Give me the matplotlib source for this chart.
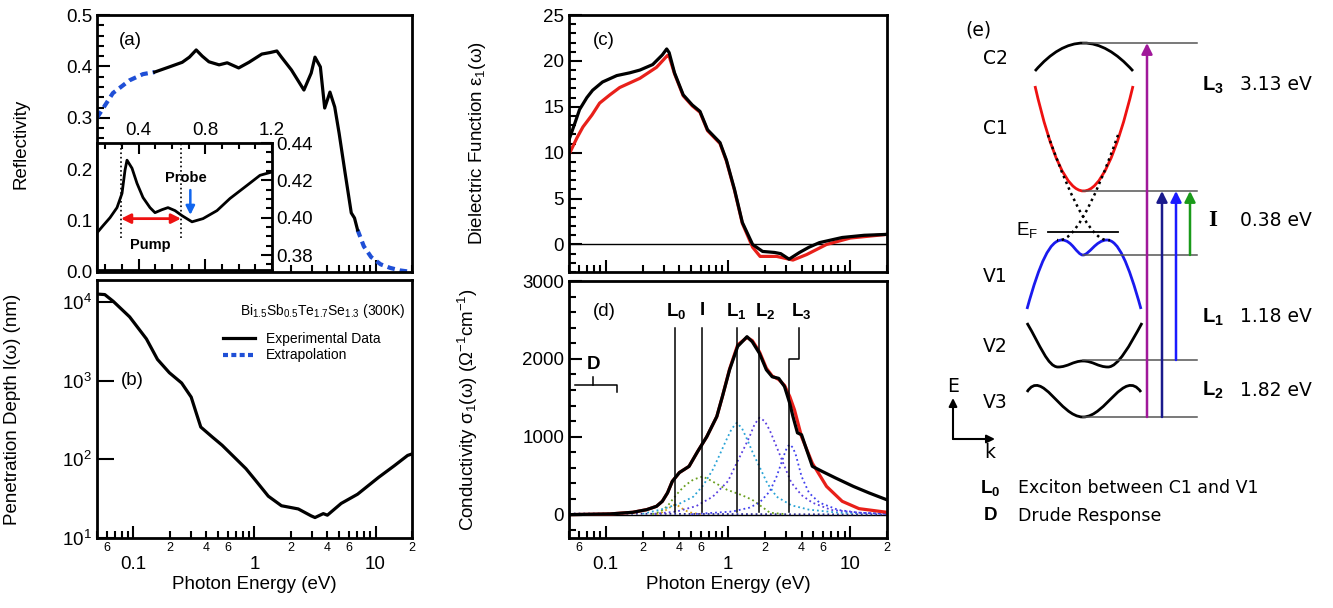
#!/usr/bin/env python3
"""Optical spectra of Bi1.5Sb0.5Te1.7Se1.3 with band-transition sketch."""

import matplotlib
matplotlib.use("Agg")
import matplotlib.pyplot as plt
from matplotlib.path import Path
from matplotlib.patches import PathPatch
from matplotlib.ticker import FixedLocator, FuncFormatter, MultipleLocator, LogFormatterMathtext, NullLocator

plt.rcParams["font.family"] = ["Liberation Sans", "DejaVu Sans"]
plt.rcParams["mathtext.fontset"] = "custom"
plt.rcParams["mathtext.rm"] = "Liberation Sans"
plt.rcParams["mathtext.it"] = "Liberation Sans:italic"
plt.rcParams["mathtext.bf"] = "Liberation Sans:bold"

# ---- (a) reflectivity ----
refl_lo_E = [0.05, 0.0676, 0.093, 0.12, 0.15]
refl_lo_R = [0.30, 0.348, 0.373, 0.385, 0.389]
refl_E = [0.15, 0.198, 0.253, 0.29, 0.33, 0.37, 0.42, 0.51, 0.595, 0.74, 0.90, 1.15, 1.35, 1.53,
          1.67, 2.02, 2.56, 2.94, 3.16, 3.5, 3.8, 4.2, 4.6, 5.0, 5.6, 6.3, 6.7, 7.1]
refl_R = [0.389, 0.399, 0.408, 0.418, 0.432, 0.42, 0.409, 0.403, 0.407, 0.397, 0.408, 0.424, 0.427, 0.43,
          0.418, 0.393, 0.354, 0.387, 0.418, 0.399, 0.319, 0.350, 0.321, 0.27, 0.193, 0.115, 0.105, 0.082]
refl_hi_E = [7.1, 8.0, 9.2, 11.0, 13.2, 16.0, 20.0]
refl_hi_R = [0.082, 0.05, 0.029, 0.015, 0.008, 0.003, 0.0]

inset_E = [0.15, 0.186, 0.228, 0.27, 0.30, 0.318, 0.33, 0.36, 0.39, 0.426, 0.468, 0.498, 0.54,
           0.576, 0.618, 0.66, 0.72, 0.786, 0.87, 0.948, 1.05, 1.128, 1.2]
inset_R = [0.3919, 0.3957, 0.400, 0.4054, 0.413, 0.4254, 0.4308, 0.4265, 0.4184, 0.4108, 0.4054,
           0.4027, 0.4043, 0.4054, 0.4038, 0.4011, 0.3978, 0.3995, 0.4038, 0.4103, 0.4173, 0.4227, 0.4245]
pump_E = [0.294, 0.654]
probe_E = 0.71

# ---- (b) penetration depth ----
depth_E = [0.05, 0.058, 0.068, 0.093, 0.128, 0.158, 0.198, 0.25, 0.30, 0.33, 0.36, 0.45, 0.54,
           0.70, 0.85, 1.02, 1.3, 1.67, 2.3, 2.94, 3.16, 3.7, 4.0, 5.2, 7.1, 10.6, 14.3, 18.4, 20.0]
depth_nm = [12600, 12400, 10200, 6460, 3390, 1860, 1260, 933, 617, 389, 257, 191, 151,
            102, 76, 54, 34, 25.7, 23.4, 19.1, 18.2, 20.4, 19.5, 27.5, 36, 59, 83, 112, 117]

# ---- (c) dielectric function ----
eps_E = [0.05, 0.0558, 0.061, 0.070, 0.078, 0.094, 0.123, 0.157, 0.19, 0.242, 0.29, 0.315, 0.33,
         0.365, 0.43, 0.51, 0.59, 0.68, 0.86, 0.97, 1.13, 1.31, 1.59, 1.92, 2.4, 2.7, 3.16, 3.85,
         4.6, 5.6, 8.6, 13.0, 20.0]
eps_exp = [11.4, 13.2, 14.7, 16.0, 16.8, 17.7, 18.4, 18.7, 19.0, 19.6, 20.65, 21.3, 20.9,
           18.7, 16.3, 15.2, 14.5, 12.5, 11.1, 9.2, 6.0, 2.4, 0.0, -0.76, -0.87, -1.0, -1.6, -0.87,
           -0.3, 0.2, 0.76, 1.0, 1.1]
eps_fit_E = [0.05, 0.058, 0.065, 0.077, 0.089, 0.108, 0.13, 0.19, 0.26, 0.32, 0.33, 0.365, 0.43,
             0.51, 0.59, 0.68, 0.86, 0.97, 1.13, 1.31, 1.59, 1.83, 2.5, 3.4, 4.4, 6.4, 10.0, 20.0]
eps_fit = [9.8, 11.6, 12.8, 14.1, 15.4, 16.3, 17.1, 18.1, 19.3, 20.6, 20.5, 18.6, 16.2,
           15.1, 14.4, 12.4, 11.0, 9.1, 5.9, 2.3, -0.3, -1.3, -1.3, -1.7, -1.1, 0.0, 0.7, 1.1]

# ---- (d) optical conductivity ----
sig_E = [0.05, 0.108, 0.166, 0.216, 0.26, 0.29, 0.32, 0.35, 0.40, 0.48, 0.565, 0.67, 0.81, 0.90,
         1.03, 1.2, 1.43, 1.58, 1.81, 2.06, 2.3, 2.6, 2.9, 3.2, 3.4, 3.7, 4.0, 4.4, 4.9, 5.9,
         7.6, 10.6, 14.3, 20.0]
sig_exp = [0, 9, 30, 64, 107, 171, 280, 427, 540, 620, 812, 1000, 1260, 1517,
           1860, 2160, 2285, 2220, 2070, 1860, 1770, 1750, 1645, 1430, 1260, 1050, 1025, 833, 620, 555,
           470, 363, 278, 190]
sig_fit_E = [0.05, 0.108, 0.166, 0.216, 0.26, 0.29, 0.32, 0.35, 0.40, 0.48, 0.565, 0.67, 0.81, 0.90,
             1.03, 1.2, 1.43, 1.58, 1.81, 2.06, 2.3, 2.6, 2.9, 3.2, 3.5, 4.0, 4.9, 6.4, 8.6, 11.8, 20.0]
sig_fit = [0, 9, 30, 64, 107, 171, 280, 427, 540, 620, 812, 1000, 1260, 1517,
           1870, 2180, 2275, 2235, 2090, 1880, 1780, 1735, 1660, 1517, 1346, 1000, 660, 363, 171, 77, 30]

osc_L0_E = [0.26, 0.29, 0.32, 0.35, 0.37, 0.39, 0.42, 0.46, 0.5, 0.6]
osc_L0 = [5, 30, 70, 115, 128, 115, 80, 45, 25, 5]
osc_I_E = [0.24, 0.28, 0.32, 0.35, 0.40, 0.45, 0.52, 0.62, 0.7, 0.8, 0.98, 1.3, 1.58, 1.9, 2.2, 3.0]
osc_I = [5, 40, 110, 190, 300, 380, 450, 490, 450, 400, 320, 250, 190, 100, 25, 5]
osc_L1_E = [0.2, 0.28, 0.4, 0.52, 0.63, 0.75, 0.85, 0.95, 1.07, 1.18, 1.3, 1.45, 1.6, 1.81, 2.1,
            2.5, 3.3, 4.6, 8.0, 20.0]
osc_L1 = [10, 64, 140, 230, 380, 577, 760, 930, 1100, 1180, 1110, 950, 790, 615, 400,
          230, 120, 64, 25, 10]
osc_L2_E = [0.25, 0.38, 0.55, 0.75, 1.0, 1.18, 1.35, 1.5, 1.65, 1.81, 2.0, 2.2, 2.5, 2.9, 3.3,
            4.0, 4.9, 7.0, 11.8, 20.0]
osc_L2 = [10, 40, 110, 230, 430, 665, 850, 1000, 1160, 1245, 1200, 1080, 870, 620, 410,
          250, 154, 60, 25, 10]
osc_L3_E = [0.5, 1.09, 1.5, 1.81, 2.2, 2.5, 2.7, 2.9, 3.05, 3.2, 3.4, 3.6, 4.0, 4.6, 5.6, 8.0, 11.8, 20.0]
osc_L3 = [5, 40, 90, 154, 300, 490, 640, 780, 870, 900, 860, 760, 490, 280, 154, 60, 25, 10]
osc_D_E = [0.05, 0.3, 3.0, 20.0]
osc_D = [15, 10, 5, 2]

mark_E = [0.37, 0.61, 1.18, 1.81]
mark_names = [r"$\mathbf{L_0}$", r"$\mathbf{I}$", r"$\mathbf{L_1}$", r"$\mathbf{L_2}$"]
mark_label_E = [0.375, 0.61, 1.18, 2.0]
L3_bracket_E = [3.13, 3.13, 3.8, 3.8]
L3_bracket_S = [40, 2000, 2000, 2400]
D_bracket_E = [0.056, 0.123, 0.123]
D_bracket_S = [1670, 1670, 1580]
D_stem_E = [0.079, 0.079]
D_stem_S = [1670, 1770]

# ---- (e) band sketch (schematic coordinates, y grows downward) ----
level_y = [43, 191, 255, 360, 417]
level_x = [1083, 1197]
arrow_x = [1147, 1162, 1176, 1190]
arrow_from = [417, 417, 360, 255]
arrow_to = [43, 191, 191, 191]
arrow_colors = ["#a0189a", "#1a1a8c", "#1a1aff", "#1a9a1a"]
band_C2 = [(1035, 71), (1083, 15), (1133, 71)]
band_C1 = [(1035, 86), (1083, 296), (1133, 86)]
band_V1 = [(1027, 309), (1040, 262), (1050, 240), (1062, 240), (1072, 240), (1077, 255), (1083, 255),
           (1089, 255), (1096, 240), (1107, 240), (1118, 240), (1128, 262), (1141, 309)]
band_V2 = [(1027, 323), (1040, 345), (1048, 367), (1058, 367), (1068, 367), (1073, 361), (1083, 361),
           (1093, 361), (1098, 367), (1108, 367), (1118, 367), (1130, 345), (1142, 323)]
band_V3 = [(1027, 392), (1042, 368), (1060, 417), (1083, 417), (1106, 417), (1124, 368), (1141, 392)]
dirac_a = [(1048, 135), (1087, 246), (1110, 240)]
dirac_b = [(1118, 135), (1079, 246), (1057, 240)]
fermi = [(1048, 232), (1118, 232)]

BLACK = "#000000"
RED = "#e8201a"
BLUE = "#1f4fd6"
FS = 13.5


def style_logx(ax, labels=True):
    ax.set_xscale("log")
    ax.set_xlim(0.05, 20)
    ax.xaxis.set_major_locator(FixedLocator([0.1, 1, 10]))
    minors = [0.05, 0.06, 0.07, 0.08, 0.09] + [k * 0.1 for k in range(2, 10)] + list(range(2, 10)) + [20]
    ax.xaxis.set_minor_locator(FixedLocator(minors))
    shown = {0.06: "6", 0.2: "2", 0.4: "4", 0.6: "6", 2: "2", 4: "4", 6: "6", 20: "2"}

    def minor_fmt(v, _):
        for key, txt in shown.items():
            if abs(v - key) < 1e-6 * max(1, key):
                return txt
        return ""

    if labels:
        ax.xaxis.set_major_formatter(FuncFormatter(lambda v, _: {0.1: "0.1", 1: "1", 10: "10"}.get(round(v, 3), "")))
        ax.xaxis.set_minor_formatter(FuncFormatter(minor_fmt))
        ax.tick_params(axis="x", which="major", labelsize=FS, pad=13)
        ax.tick_params(axis="x", which="minor", labelsize=9, pad=3)
        ax.set_xlabel("Photon Energy (eV)", fontsize=FS, labelpad=2)
    else:
        ax.tick_params(axis="x", which="both", labelbottom=False)


def style_common(ax):
    for s in ax.spines.values():
        s.set_linewidth(2)
    ax.tick_params(which="both", direction="in", top=False, right=False, width=1.5)
    ax.tick_params(which="major", length=9)
    ax.tick_params(which="minor", length=5)
    ax.tick_params(axis="y", labelsize=FS)


fig = plt.figure(figsize=(13.33, 6.08), dpi=100)
W, H = 1333, 608


def box(x0, x1, y0, y1):
    return [x0 / W, (H - y1) / H, (x1 - x0) / W, (y1 - y0) / H]


ax_a = fig.add_axes(box(97, 412, 15, 272))
ax_b = fig.add_axes(box(97, 412, 280, 538))
ax_c = fig.add_axes(box(569, 887, 15, 272))
ax_d = fig.add_axes(box(569, 887, 281, 538))

# (a)
ax_a.plot(refl_lo_E, refl_lo_R, color=BLUE, lw=3, dashes=(1.8, 1.2))
ax_a.plot(refl_hi_E, refl_hi_R, color=BLUE, lw=3, dashes=(1.8, 1.2))
ax_a.plot(refl_E, refl_R, color=BLACK, lw=2.3, solid_joinstyle="round")
style_logx(ax_a, labels=False)
style_common(ax_a)
ax_a.set_ylim(0, 0.5)
ax_a.yaxis.set_major_locator(MultipleLocator(0.1))
ax_a.yaxis.set_minor_locator(MultipleLocator(0.02))
ax_a.yaxis.set_major_formatter(FuncFormatter(lambda v, _: f"{v:.1f}"))
ax_a.set_ylabel("Reflectivity", fontsize=FS)
ax_a.yaxis.set_label_coords(-0.215, 0.5)
ax_a.text(0.07, 0.9, "(a)", transform=ax_a.transAxes, fontsize=FS, va="center")

ax_in = fig.add_axes(box(97, 272, 143, 270))
ax_in.set_zorder(5)
ax_in.set_facecolor("white")
ax_in.plot(inset_E, inset_R, color=BLACK, lw=2, solid_joinstyle="round")
ax_in.set_xlim(0.15, 1.2)
ax_in.set_ylim(0.372, 0.44)
for e in pump_E:
    ax_in.plot([e, e], [0.389, 0.44], color=BLACK, lw=1.2, ls=":")
ax_in.annotate("", xy=(pump_E[1], 0.3995), xytext=(pump_E[0], 0.3995),
               arrowprops=dict(arrowstyle="<|-|>", color="#ee1111", lw=2, mutation_scale=14,
                               shrinkA=0, shrinkB=0))
ax_in.annotate("", xy=(probe_E, 0.4015), xytext=(probe_E, 0.4148),
               arrowprops=dict(arrowstyle="-|>", color="#1166ee", lw=1.8, mutation_scale=13,
                               shrinkA=0, shrinkB=0))
ax_in.text(0.47, 0.3855, "Pump", fontsize=10.5, fontweight="bold", ha="center", va="center")
ax_in.text(0.685, 0.4215, "Probe", fontsize=10.5, fontweight="bold", ha="center", va="center")
for s in ax_in.spines.values():
    s.set_linewidth(2)
ax_in.xaxis.set_major_locator(FixedLocator([0.4, 0.8, 1.2]))
ax_in.xaxis.set_minor_locator(MultipleLocator(0.1))
ax_in.yaxis.set_major_locator(MultipleLocator(0.02))
ax_in.yaxis.set_minor_locator(MultipleLocator(0.005))
ax_in.tick_params(which="both", direction="in", top=True, bottom=True, labeltop=True, labelbottom=False,
                  left=False, labelleft=False, right=True, labelright=True, width=1.5, labelsize=FS)
ax_in.tick_params(which="major", length=8, pad=3)
ax_in.tick_params(which="minor", length=4)
ax_in.xaxis.set_major_formatter(FuncFormatter(lambda v, _: f"{v:.1f}"))
ax_in.yaxis.set_major_formatter(FuncFormatter(lambda v, _: f"{v:.2f}"))

# (b)
ax_b.plot(depth_E, depth_nm, color=BLACK, lw=2.3, solid_joinstyle="round")
ax_b.set_yscale("log")
ax_b.set_ylim(10, 1.9e4)
style_logx(ax_b)
style_common(ax_b)
ax_b.yaxis.set_major_locator(FixedLocator([10, 100, 1000, 10000]))
ax_b.yaxis.set_major_formatter(LogFormatterMathtext())
ax_b.yaxis.set_minor_locator(NullLocator())
ax_b.tick_params(axis="y", which="major", length=12)
ax_b.set_ylabel("Penetration Depth l(ω) (nm)", fontsize=FS)
ax_b.yaxis.set_label_coords(-0.24, 0.5)
ax_b.text(0.075, 0.61, "(b)", transform=ax_b.transAxes, fontsize=FS, va="center")
ax_b.text(0.98, 0.88, r"Bi$_{1.5}$Sb$_{0.5}$Te$_{1.7}$Se$_{1.3}$ (300K)", transform=ax_b.transAxes,
          fontsize=10, ha="right", va="center")
h_exp, = ax_b.plot([], [], color=BLACK, lw=2.3)
h_ext, = ax_b.plot([], [], color=BLUE, lw=3, dashes=(1.2, 0.8))
ax_b.legend([h_exp, h_ext], ["Experimental Data", "Extrapolation"], loc="upper left",
            bbox_to_anchor=(0.4, 0.8), frameon=False, fontsize=10, handlelength=2.3,
            borderpad=0, borderaxespad=0, labelspacing=0.2, handletextpad=0.8)

# (c)
ax_c.axhline(0, color=BLACK, lw=1)
ax_c.plot(eps_fit_E, eps_fit, color=RED, lw=2.3, solid_joinstyle="round")
ax_c.plot(eps_E, eps_exp, color=BLACK, lw=2.3, solid_joinstyle="round")
style_logx(ax_c, labels=False)
style_common(ax_c)
ax_c.set_ylim(-3, 25)
ax_c.yaxis.set_major_locator(MultipleLocator(5))
ax_c.yaxis.set_minor_locator(MultipleLocator(1))
ax_c.set_ylabel("Dielectric Function ε$_1$(ω)", fontsize=FS)
ax_c.yaxis.set_label_coords(-0.255, 0.5)
ax_c.text(0.075, 0.9, "(c)", transform=ax_c.transAxes, fontsize=FS, va="center")

# (d)
ax_d.axhline(0, color=BLACK, lw=1)
ax_d.plot(osc_D_E, osc_D, color="#2a2a90", lw=1.3, ls=":")
ax_d.plot(osc_L0_E, osc_L0, color="#d4a017", lw=1.3, ls=":")
ax_d.plot(osc_I_E, osc_I, color="#6a9f1f", lw=1.3, ls=":")
ax_d.plot(osc_L1_E, osc_L1, color="#29a3d6", lw=1.3, ls=":")
ax_d.plot(osc_L2_E, osc_L2, color="#5a3fe0", lw=1.3, ls=":")
ax_d.plot(osc_L3_E, osc_L3, color="#4040ee", lw=1.3, ls=":")
ax_d.plot(sig_fit_E, sig_fit, color=RED, lw=2.3, solid_joinstyle="round")
ax_d.plot(sig_E, sig_exp, color=BLACK, lw=2.3, solid_joinstyle="round")
for e in mark_E:
    ax_d.plot([e, e], [40, 2400], color=BLACK, lw=1.1)
ax_d.plot(L3_bracket_E, L3_bracket_S, color=BLACK, lw=1.1)
for e, name in zip(mark_label_E, mark_names):
    ax_d.text(e, 2620, name, fontsize=FS, ha="center", va="center")
ax_d.text(3.97, 2620, r"$\mathbf{L_3}$", fontsize=FS, ha="center", va="center")
ax_d.plot(D_bracket_E, D_bracket_S, color=BLACK, lw=1.1)
ax_d.plot(D_stem_E, D_stem_S, color=BLACK, lw=1.1)
ax_d.text(0.079, 1930, r"$\mathbf{D}$", fontsize=FS, ha="center", va="center")
style_logx(ax_d)
style_common(ax_d)
ax_d.set_ylim(-300, 3000)
ax_d.yaxis.set_major_locator(MultipleLocator(1000))
ax_d.yaxis.set_minor_locator(MultipleLocator(200))
ax_d.set_ylabel("Conductivity σ$_1$(ω) (Ω$^{-1}$cm$^{-1}$)", fontsize=FS)
ax_d.yaxis.set_label_coords(-0.28, 0.5)
ax_d.text(0.075, 0.88, "(d)", transform=ax_d.transAxes, fontsize=FS, va="center")

# (e) band sketch
ax_e = fig.add_axes(box(930, 1333, 0, 608))
ax_e.set_xlim(930, 1333)
ax_e.set_ylim(608, 0)
ax_e.axis("off")


def bez(points, code, color, lw=2, ls="-"):
    codes = [Path.MOVETO] + [code] * (len(points) - 1)
    ax_e.add_patch(PathPatch(Path(points, codes), fc="none", ec=color, lw=lw, ls=ls))


bez(band_C2, Path.CURVE3, BLACK)
bez(band_C1, Path.CURVE3, "#ee1111")
bez(band_V1, Path.CURVE4, "#1a1aee")
bez(band_V2, Path.CURVE4, BLACK)
bez(band_V3, Path.CURVE4, BLACK)
bez(dirac_a, Path.CURVE3, BLACK, lw=1.8, ls=(0, (1, 1.5)))
bez(dirac_b, Path.CURVE3, BLACK, lw=1.8, ls=(0, (1, 1.5)))
ax_e.plot([p[0] for p in fermi], [p[1] for p in fermi], color=BLACK, lw=1.3)
for y in level_y:
    ax_e.plot(level_x, [y, y], color="#555555", lw=1.1)
for x, y0, y1, c in zip(arrow_x, arrow_from, arrow_to, arrow_colors):
    ax_e.annotate("", xy=(x, y1), xytext=(x, y0),
                  arrowprops=dict(arrowstyle="-|>", color=c, lw=1.8, mutation_scale=16,
                                  shrinkA=0, shrinkB=0))
ax_e.annotate("", xy=(953, 398), xytext=(953, 439),
              arrowprops=dict(arrowstyle="-|>", color=BLACK, lw=1.5, mutation_scale=12, shrinkA=0, shrinkB=0))
ax_e.annotate("", xy=(995, 439), xytext=(953, 439),
              arrowprops=dict(arrowstyle="-|>", color=BLACK, lw=1.5, mutation_scale=12, shrinkA=0, shrinkB=0))

tkw = dict(fontsize=FS, family="DejaVu Sans", va="center")
ax_e.text(978, 30, "(e)", ha="center", **tkw)
for name, y in [("C2", 58), ("C1", 128), ("V1", 277), ("V2", 347), ("V3", 403)]:
    ax_e.text(995, y, name, ha="center", **tkw)
ax_e.text(1027, 230, r"E$_\mathrm{F}$", ha="center", fontsize=FS, va="center")
ax_e.text(953, 386, "E", ha="center", **tkw)
ax_e.text(990, 452, "k", ha="center", **tkw)
for name, val, y in [(r"$\mathbf{L_3}$", "3.13 eV", 85), (r"$\mathbf{L_1}$", "1.18 eV", 317),
                     (r"$\mathbf{L_2}$", "1.82 eV", 390)]:
    ax_e.text(1213, y, name, ha="center", fontsize=FS + 1, va="center")
    ax_e.text(1240, y, val, ha="left", **tkw)
ax_e.text(1213, 220, "I", ha="center", va="center", fontsize=FS + 3, family="Liberation Serif",
          fontweight="bold")
ax_e.text(1240, 220, "0.38 eV", ha="left", **tkw)
ax_e.text(990, 488, r"$\mathbf{L_0}$", ha="center", fontsize=FS, va="center")
ax_e.text(1018, 488, "Exciton between C1 and V1", ha="left", fontsize=12.5, family="DejaVu Sans", va="center")
ax_e.text(990, 516, r"$\mathbf{D}$", ha="center", fontsize=FS, va="center")
ax_e.text(1018, 516, "Drude Response", ha="left", fontsize=12.5, family="DejaVu Sans", va="center")

fig.savefig("out.png", dpi=100)
